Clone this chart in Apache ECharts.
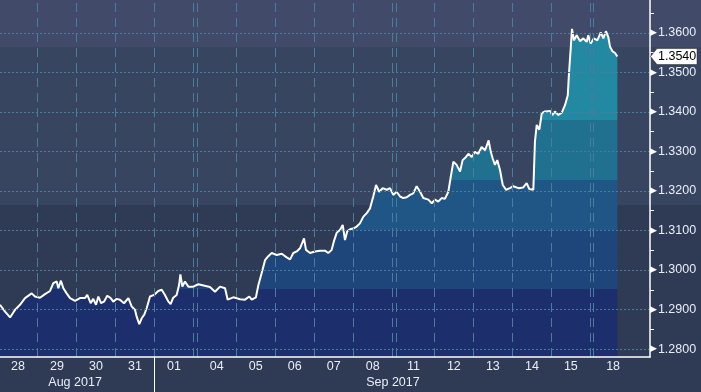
<!DOCTYPE html>
<html>
<head>
<meta charset="utf-8">
<script src="https://cdn.jsdelivr.net/npm/echarts@6/dist/echarts.min.js"></script>
<style>
  html, body { margin: 0; padding: 0; }
  #chart {
    width: 701px; height: 392px;
    background: linear-gradient(to bottom, #424a6a 0px, #424a6a 47px, #374561 47px, #374561 205px, #2f3a54 205px, #2f3a54 392px);
  }
</style>
</head>
<body>
<div id="chart"></div>
<script>
// ---- data (time in hours from the left edge, GBP/USD price) ----
const times = [
  0, 3.1, 6.2, 9.2, 12.3, 15.4, 19.5, 21.5, 24.6, 27.7, 30.8, 32.8, 34.9, 35.9, 37.5, 39.0, 41.0, 43.1, 46.2, 49.2,
  52.3, 53.7, 55.8, 57.4, 59.1, 60.5, 62.2, 64.0, 66.0, 68.1, 69.7, 71.8, 73.8, 76.3, 79.0, 81.0, 83.1, 84.1, 85.7, 87.2,
  88.8, 90.3, 92.3, 94.8, 97.4, 99.5, 101.5, 103.6, 105.0, 106.6, 108.7, 110.2, 111.0, 112.2, 113.8, 115.9, 119.0, 122.0, 123.1, 129.2,
  132.3, 135.4, 138.5, 140.1, 143.6, 147.7, 150.8, 153.4, 154.9, 157.5, 159.0, 161.0, 163.1, 165.1, 167.2, 170.3, 173.4, 176.4, 178.5, 180.5,
  182.6, 184.6, 187.1, 188.3, 190.8, 193.8, 196.9, 200.0, 202.0, 204.1, 205.5, 207.2, 209.2, 210.9, 212.3, 213.7, 215.4, 217.4, 219.5, 221.5,
  223.6, 225.7, 227.7, 229.7, 231.4, 233.4, 235.5, 238.0, 240.0, 242.0, 244.1, 246.2, 248.2, 250.3, 252.3, 254.3, 256.4, 258.5, 260.5, 263.6,
  265.7, 267.7, 269.7, 271.8, 273.8, 275.9, 277.4, 279.0, 281.0, 283.1, 284.7, 286.8, 288.2, 290.3, 292.3, 294.3, 296.4, 298.5, 300.7, 302.0,
  303.2, 304.6, 306.0, 307.7, 309.4, 311.4, 313.8, 315.9, 319.0, 322.0, 324.1, 325.7, 328.2, 329.2, 330.3, 331.9, 333.4, 335.4, 338.5, 339.9,
  341.5, 343.6, 345.7, 347.7, 349.4, 350.2, 351.2, 352.0, 353.2, 354.9, 356.9, 359.0, 361.0, 362.0, 363.5, 365.5, 367.6, 369.7, 371.3, 372.9,
  374.3, 375.4, 377.0, 378.5, 379.9
];
const prices = [
  1.2912, 1.2895, 1.2880, 1.2899, 1.2912, 1.2929, 1.2941, 1.2933, 1.2930, 1.2939, 1.2947, 1.2967, 1.2971, 1.2954, 1.2973, 1.2954, 1.2941, 1.2929, 1.2922, 1.2929,
  1.2929, 1.2937, 1.2916, 1.2927, 1.2912, 1.2933, 1.2916, 1.2920, 1.2935, 1.2929, 1.2920, 1.2927, 1.2925, 1.2916, 1.2929, 1.2908, 1.2899, 1.2882, 1.2863, 1.2878,
  1.2887, 1.2904, 1.2933, 1.2937, 1.2947, 1.2950, 1.2937, 1.2920, 1.2914, 1.2930, 1.2937, 1.2962, 1.2989, 1.2958, 1.2971, 1.2958, 1.2958, 1.2964, 1.2962, 1.2957,
  1.2945, 1.2958, 1.2954, 1.2925, 1.2931, 1.2926, 1.2925, 1.2933, 1.2925, 1.2931, 1.2962, 1.2992, 1.3025, 1.3035, 1.3043, 1.3038, 1.3041, 1.3032, 1.3027, 1.3043,
  1.3047, 1.3055, 1.3080, 1.3051, 1.3043, 1.3047, 1.3049, 1.3049, 1.3043, 1.3051, 1.3073, 1.3094, 1.3101, 1.3114, 1.3076, 1.3098, 1.3103, 1.3105, 1.3110, 1.3118,
  1.3135, 1.3144, 1.3156, 1.3186, 1.3215, 1.3198, 1.3207, 1.3203, 1.3207, 1.3190, 1.3198, 1.3186, 1.3182, 1.3184, 1.3190, 1.3194, 1.3212, 1.3198, 1.3182, 1.3178,
  1.3169, 1.3178, 1.3173, 1.3182, 1.3180, 1.3198, 1.3236, 1.3274, 1.3266, 1.3249, 1.3278, 1.3286, 1.3294, 1.3286, 1.3299, 1.3294, 1.3311, 1.3303, 1.3328, 1.3299,
  1.3282, 1.3266, 1.3278, 1.3253, 1.3215, 1.3203, 1.3207, 1.3212, 1.3207, 1.3209, 1.3220, 1.3205, 1.3203, 1.3325, 1.3367, 1.3355, 1.3397, 1.3401, 1.3402, 1.3392,
  1.3401, 1.3392, 1.3398, 1.3417, 1.3442, 1.3501, 1.3560, 1.3610, 1.3581, 1.3594, 1.3579, 1.3586, 1.3577, 1.3594, 1.3573, 1.3586, 1.3581, 1.3601, 1.3586, 1.3604,
  1.3590, 1.3565, 1.3553, 1.3549, 1.3540
];

// ---- axes / ticks ----
const yLabelValues = [1.28, 1.29, 1.30, 1.31, 1.32, 1.33, 1.34, 1.35, 1.36];
const yMinorTicks = [1.285, 1.295, 1.305, 1.315, 1.325, 1.335, 1.345, 1.355, 1.365];
const dayBoundaries = [23, 47, 71, 95, 119, 121.4, 145.4, 169.4, 193.4, 217.4, 241.4, 243.7, 267.3, 291.3, 315.3, 339.5, 363.1, 365.2];
const dayCenters = [11, 35, 59, 83, 107, 133.4, 157.4, 181.4, 205.4, 229.4, 254.5, 279.3, 303.3, 327.4, 351.3, 377.3];
const dayLabels = ['28', '29', '30', '31', '01', '04', '05', '06', '07', '08', '11', '12', '13', '14', '15', '18'];
const monthCenters = [46.2, 241.8];
const monthLabels = ['Aug 2017', 'Sep 2017'];
const monthSeparators = [95];

// ---- colour bands of the area fill ----
const bandLevels = [1.2952, 1.3100, 1.3228, 1.3380];
const bandColors = ['#1c2e6b', '#1e467a', '#1f5686', '#20708f', '#2389a2'];

const xMin = 0, xMax = 400, yMin = 1.278, yMax = 1.3683;
const FONT = '"Liberation Sans", Arial, sans-serif';

const lineData = times.map((t, i) => [t, prices[i]]);

const pieces = [];
for (let i = 0; i <= bandLevels.length; i++) {
  const p = { color: bandColors[i] };
  if (i > 0) p.gte = bandLevels[i - 1];
  if (i < bandLevels.length) p.lt = bandLevels[i];
  pieces.push(p);
}

const gridColor = '#4a7c9d';
const markLineData = [];
yLabelValues.forEach(v => markLineData.push({ yAxis: v, lineStyle: { color: gridColor, type: [2, 2], width: 1 } }));
dayBoundaries.forEach(v => markLineData.push({ xAxis: v, lineStyle: { color: gridColor, type: [9, 6], width: 1 } }));

const chart = echarts.init(document.getElementById('chart'), null, { renderer: 'canvas' });

const option = {
  animation: false,
  backgroundColor: 'transparent',
  grid: { left: 0, right: 51, top: 0, bottom: 35, containLabel: false },
  xAxis: [
    {
      type: 'value', min: xMin, max: xMax, z: 10,
      splitLine: { show: false },
      axisLine: { show: true, onZero: false, lineStyle: { color: '#ffffff', width: 1.5 } },
      axisTick: { show: true, customValues: monthSeparators, length: 36, lineStyle: { color: '#ffffff', width: 1 } },
      axisLabel: {
        customValues: dayCenters, margin: 3,
        color: '#e8eef8', fontSize: 12.5, fontFamily: FONT,
        formatter: v => {
          const i = dayCenters.findIndex(c => Math.abs(c - v) < 0.01);
          return i >= 0 ? dayLabels[i] : '';
        }
      }
    },
    {
      type: 'value', min: xMin, max: xMax, position: 'bottom', offset: 16,
      splitLine: { show: false },
      axisLine: { show: false, onZero: false }, axisTick: { show: false },
      axisLabel: {
        customValues: monthCenters, margin: 3,
        color: '#e8eef8', fontSize: 12.5, fontFamily: FONT,
        formatter: v => {
          const i = monthCenters.findIndex(c => Math.abs(c - v) < 0.01);
          return i >= 0 ? monthLabels[i] : '';
        }
      }
    }
  ],
  yAxis: {
    type: 'value', position: 'right', min: yMin, max: yMax, z: 10,
    splitLine: { show: false },
    axisLine: { show: true, onZero: false, lineStyle: { color: '#ffffff', width: 1.5 } },
    axisTick: { show: true, customValues: yMinorTicks, length: 4, lineStyle: { color: '#ffffff' } },
    axisLabel: {
      customValues: yLabelValues, margin: 0,
      color: '#e8eef8', fontSize: 12.5, fontFamily: FONT,
      formatter: v => '{t|\u25B6}' + v.toFixed(4),
      rich: { t: { fontSize: 9, color: '#ffffff', fontFamily: '"DejaVu Sans"', padding: [0, 1, 0, 0] } }
    }
  },
  visualMap: {
    show: false, type: 'piecewise', seriesIndex: 0, dimension: 1, pieces: pieces
  },
  series: [
    {
      type: 'line', data: lineData, symbol: 'none', z: 1, silent: true,
      lineStyle: { width: 0 },
      areaStyle: { opacity: 1 }
    },
    {
      type: 'line', data: lineData, symbol: 'none', z: 2, silent: true,
      lineStyle: { width: 0, opacity: 0 },
      markLine: { silent: true, symbol: ['none', 'none'], label: { show: false }, animation: false, data: markLineData }
    },
    {
      type: 'line', data: lineData, symbol: 'none', z: 3, silent: true,
      lineStyle: { color: '#ffffff', width: 2 }
    }
  ]
};
chart.setOption(option);

// last-value tag on the price axis
const lastPrice = prices[prices.length - 1];
const p = chart.convertToPixel({ xAxisIndex: 0, yAxisIndex: 0 }, [xMax, lastPrice]);
const px = p[0], py = p[1];
chart.setOption({
  graphic: [
    {
      type: 'polygon', z: 100,
      shape: { points: [[px + 0.5, py], [px + 7, py - 8], [px + 47, py - 8], [px + 47, py + 8], [px + 7, py + 8]] },
      style: { fill: '#ffffff', stroke: '#222222', lineWidth: 0.5 }
    },
    {
      type: 'text', z: 101, x: px + 8, y: py,
      style: { text: lastPrice.toFixed(4), fill: '#000000', font: '12.5px ' + FONT, verticalAlign: 'middle', textAlign: 'left' }
    }
  ]
});
</script>
</body>
</html>
